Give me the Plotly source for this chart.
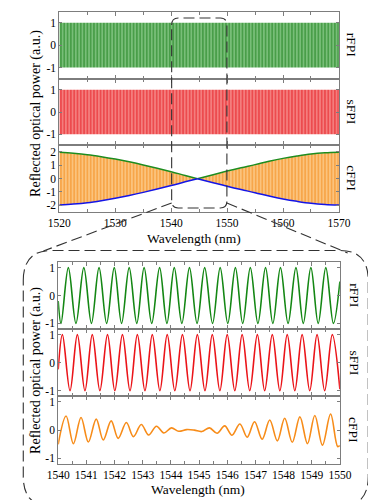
import plotly.graph_objects as go

W, H = 376, 500

# ---------------- data ----------------
top_range = [1520, 1570]
top_rfpi_limits = [-1, 1]
top_sfpi_limits = [-1, 1]

# envelope of the combined signal (cFPI) in the overview panel
env_x = [1520, 1522.5, 1525, 1527.5, 1530, 1532.5, 1535, 1537.5, 1540, 1542.5, 1544.7,
         1547.5, 1550, 1552.5, 1555, 1557.5, 1560, 1562.5, 1565, 1567.5, 1570]
env_upper = [1.97, 1.9, 1.8, 1.65, 1.47, 1.26, 1.03, 0.78, 0.52, 0.24, 0.0,
             0.3, 0.57, 0.82, 1.05, 1.3, 1.52, 1.7, 1.85, 1.94, 1.98]
env_lower = [-1.97, -1.9, -1.8, -1.65, -1.47, -1.26, -1.03, -0.78, -0.52, -0.24, 0.0,
             -0.3, -0.57, -0.82, -1.05, -1.3, -1.52, -1.7, -1.85, -1.94, -1.98]
env_node = 10

zoom_range = [1540, 1550]

# zoomed panel: start point, extrema (trough/peak), end point
rfpi_x = [1540.0, 1540.10, 1540.36, 1540.63, 1540.91, 1541.18, 1541.45, 1541.72, 1541.99,
          1542.25, 1542.52, 1542.79, 1543.05, 1543.32, 1543.60, 1543.86, 1544.12, 1544.39,
          1544.66, 1544.93, 1545.20, 1545.48, 1545.75, 1546.02, 1546.29, 1546.55, 1546.82,
          1547.09, 1547.36, 1547.62, 1547.89, 1548.16, 1548.44, 1548.70, 1548.97, 1549.23,
          1549.50, 1549.77, 1550.0]
rfpi_y = [-0.2, -1, 1, -1, 1, -1, 1, -1, 1, -1, 1, -1, 1, -1, 1, -1, 1, -1, 1, -1, 1,
          -1, 1, -1, 1, -1, 1, -1, 1, -1, 1, -1, 1, -1, 1, -1, 1, -1, 0.5]

sfpi_x = [1540.0, 1540.15, 1540.42, 1540.68, 1540.95, 1541.21, 1541.48, 1541.75, 1542.01,
          1542.28, 1542.55, 1542.81, 1543.08, 1543.34, 1543.61, 1543.87, 1544.14, 1544.41,
          1544.68, 1544.94, 1545.21, 1545.47, 1545.74, 1546.00, 1546.27, 1546.53, 1546.80,
          1547.07, 1547.33, 1547.60, 1547.87, 1548.13, 1548.40, 1548.66, 1548.93, 1549.19,
          1549.46, 1549.73, 1550.0]
sfpi_y = [-0.24, 1, -1, 1, -1, 1, -1, 1, -1, 1, -1, 1, -1, 1, -1, 1, -1, 1, -1, 1, -1,
          1, -1, 1, -1, 1, -1, 1, -1, 1, -1, 1, -1, 1, -1, 1, -1, 1, -0.95]

cfpi_x = [1540.0, 1540.28, 1540.54, 1540.81, 1541.07, 1541.35, 1541.60, 1541.88, 1542.13,
          1542.42, 1542.67, 1542.95, 1543.21, 1543.49, 1543.75, 1544.02, 1544.28, 1544.56,
          1544.83, 1545.10, 1545.37, 1545.64, 1545.91, 1546.17, 1546.45, 1546.71, 1546.97,
          1547.24, 1547.51, 1547.78, 1548.04, 1548.31, 1548.58, 1548.85, 1549.11, 1549.38,
          1549.67, 1549.92, 1550.0]
cfpi_y = [-0.5, 0.50, -0.48, 0.45, -0.42, 0.39, -0.35, 0.33, -0.29, 0.27, -0.23, 0.20,
          -0.17, 0.14, -0.10, 0.08, -0.04, 0.02, 0.0, -0.05, 0.08, -0.11, 0.15, -0.18,
          0.22, -0.25, 0.30, -0.32, 0.36, -0.38, 0.42, -0.43, 0.47, -0.48, 0.52, -0.53,
          0.57, -0.58, -0.55]

top_ticks = [1520, 1530, 1540, 1550, 1560, 1570]
zoom_ticks = [1540, 1541, 1542, 1543, 1544, 1545, 1546, 1547, 1548, 1549, 1550]
labels = ["rFPI", "sFPI", "cFPI"]

# ---------------- styling ----------------
FONT = "Liberation Serif"
GREEN = "rgb(20,135,20)"
RED = "rgb(235,20,25)"
ORANGE = "rgb(247,140,25)"
BLUE = "rgb(20,20,230)"
FRAME = "rgb(125,125,125)"


def px(x):
    return x / W


def py(y):
    return 1 - y / H


fig = go.Figure()

# subplot geometry (pixels)
top_x = (42, 340.7)
bot_x = (40.8, 341.7)
top_rows = [(3.5, 70.7), (70.7, 137.3), (137.3, 204)]
bot_rows = [(254, 321), (321, 388.3), (388.3, 456)]

axes = []  # (xaxis_name, yaxis_name)
for i in range(6):
    axes.append(("x" if i == 0 else f"x{i+1}", "y" if i == 0 else f"y{i+1}"))


def xa(dom, rng, minor_dtick, labels_on, anchor, tickvals):
    return dict(
        domain=[px(dom[0]), px(dom[1])], range=rng, anchor=anchor,
        showline=True, mirror="allticks", linecolor=FRAME, linewidth=1,
        ticks="inside", ticklen=4, tickcolor=FRAME, tickwidth=1,
        tickvals=tickvals, showticklabels=labels_on,
        minor=dict(dtick=minor_dtick, ticks="inside", ticklen=3, tickcolor=FRAME),
        showgrid=False, zeroline=False,
        tickfont=dict(family=FONT, size=11.5, color="black"),
    )


def ya(dom, rng, tickvals, anchor):
    return dict(
        domain=[py(dom[1]), py(dom[0])], range=rng, anchor=anchor,
        showline=True, mirror="allticks", linecolor=FRAME, linewidth=1,
        ticks="inside", ticklen=3, tickcolor=FRAME, tickwidth=1,
        tickvals=tickvals, ticktext=[str(v) if v >= 0 else "-" + str(-v) for v in tickvals],
        showgrid=False, zeroline=False,
        tickfont=dict(family=FONT, size=11.5, color="black"),
    )


layout_axes = {}
for i in range(3):
    xn, yn = axes[i]
    layout_axes["xaxis" if i == 0 else f"xaxis{i+1}"] = xa(
        top_x, top_range, 5, i == 2, yn, top_ticks)
    rng = [-2.5, 2.5] if i == 2 else [-1.5, 1.5]
    tv = [-2, -1, 0, 1, 2] if i == 2 else [-1, 0, 1]
    layout_axes["yaxis" if i == 0 else f"yaxis{i+1}"] = ya(top_rows[i], rng, tv, xn)
for i in range(3):
    xn, yn = axes[i + 3]
    layout_axes[f"xaxis{i+4}"] = xa(bot_x, zoom_range, 0.5, i == 2, yn, zoom_ticks)
    layout_axes[f"yaxis{i+4}"] = ya(bot_rows[i], [-1.2, 1.2], [-1, 0, 1], xn)

# ---- overview panel: dense oscillation bands ----
band_specs = [
    (top_rfpi_limits, "rgb(15,120,15)", "rgb(120,190,120)"),
    (top_sfpi_limits, "rgb(228,12,18)", "rgb(244,125,125)"),
]
for i, (lim, fg, bg) in enumerate(band_specs):
    xn, yn = axes[i]
    fig.add_trace(go.Scatter(
        x=[top_range[0], top_range[1], top_range[1], top_range[0]],
        y=[lim[1], lim[1], lim[0], lim[0]],
        mode="lines", line=dict(width=0), fill="toself", fillcolor=bg,
        fillpattern=dict(shape="|", fgcolor=fg, bgcolor=bg, size=3.3, solidity=0.45),
        xaxis=xn, yaxis=yn, hoverinfo="skip", showlegend=False))

xn, yn = axes[2]
fig.add_trace(go.Scatter(
    x=env_x + env_x[::-1], y=env_upper + env_lower[::-1],
    mode="lines", line=dict(width=0), fill="toself", fillcolor="rgb(250,190,115)",
    fillpattern=dict(shape="|", fgcolor="rgb(242,130,10)", bgcolor="rgb(251,195,125)",
                     size=3.3, solidity=0.45),
    xaxis=xn, yaxis=yn, hoverinfo="skip", showlegend=False))

for yvals, col in [(env_upper, "rgb(30,140,30)"), (env_lower, BLUE)]:
    xs = env_x[:env_node + 1] + [None] + env_x[env_node:]
    ys = yvals[:env_node + 1] + [None] + yvals[env_node:]
    fig.add_trace(go.Scatter(
        x=xs, y=ys, mode="lines", line=dict(color=col, width=1.5, shape="spline"),
        xaxis=xn, yaxis=yn, hoverinfo="skip", showlegend=False, connectgaps=False))

# ---- zoomed panel ----
for (xs, ys, col), (xn, yn) in zip(
        [(rfpi_x, rfpi_y, GREEN), (sfpi_x, sfpi_y, RED), (cfpi_x, cfpi_y, ORANGE)],
        axes[3:]):
    fig.add_trace(go.Scatter(
        x=xs, y=ys, mode="lines", line=dict(color=col, width=1.6, shape="spline", smoothing=1),
        xaxis=xn, yaxis=yn, hoverinfo="skip", showlegend=False))

# ---- text ----
ann = []
for rows, xc in [(top_rows, 354), (bot_rows, 357)]:
    for (y0, y1), lab in zip(rows, labels):
        ann.append(dict(x=px(xc), y=py((y0 + y1) / 2), xref="paper", yref="paper",
                        text=lab, textangle=90, showarrow=False,
                        font=dict(family=FONT, size=13.5, color="black"),
                        xanchor="center", yanchor="middle"))
for yc in [105, 362]:
    ann.append(dict(x=px(17), y=py(yc), xref="paper", yref="paper",
                    text="Reflected optical power (a.u.)", textangle=-90, showarrow=False,
                    font=dict(family=FONT, size=14, color="black"),
                    xanchor="center", yanchor="middle"))
for xc, ytop in [(186, 222), (190, 473)]:
    ann.append(dict(x=px(xc), y=py(ytop), xref="paper", yref="paper",
                    text="Wavelength (nm)", showarrow=False, borderpad=0,
                    font=dict(family=FONT, size=13.5, color="black"),
                    xanchor="center", yanchor="top"))

# ---- dashed zoom indicator shapes ----


def rrect(l, t, r, b, rad):
    pts = [
        ("M", [(l, t + rad)]), ("Q", [(l, t), (l + rad, t)]), ("L", [(r - rad, t)]),
        ("Q", [(r, t), (r, t + rad)]), ("L", [(r, b - rad)]),
        ("Q", [(r, b), (r - rad, b)]), ("L", [(l + rad, b)]),
        ("Q", [(l, b), (l, b - rad)]), ("Z", []),
    ]
    s = ""
    for cmd, cs in pts:
        s += cmd + " ".join(f"{px(a):.5f},{py(c):.5f}" for a, c in cs) + " "
    return s.strip()


DASH = "11px,5px"
LC = "rgb(50,50,50)"
shapes = [
    dict(type="path", xref="paper", yref="paper", path=rrect(162, 10, 221, 200, 7),
         line=dict(color=LC, width=1.1, dash=DASH)),
    dict(type="path", xref="paper", yref="paper", path=rrect(3.5, 242.5, 372, 498.5, 30),
         line=dict(color=LC, width=1.1, dash=DASH)),
    dict(type="line", xref="paper", yref="paper", x0=px(162), y0=py(195), x1=px(25), y1=py(243),
         line=dict(color=LC, width=1.1, dash=DASH)),
    dict(type="line", xref="paper", yref="paper", x0=px(221), y0=py(195), x1=px(350), y1=py(245),
         line=dict(color=LC, width=1.1, dash=DASH)),
]

fig.update_layout(
    width=W, height=H, margin=dict(l=0, r=0, t=0, b=0),
    paper_bgcolor="white", plot_bgcolor="white",
    showlegend=False, annotations=ann, shapes=shapes,
    font=dict(family=FONT, size=11, color="black"),
    **layout_axes,
)

fig.write_html("out.html", config={"displayModeBar": False})
